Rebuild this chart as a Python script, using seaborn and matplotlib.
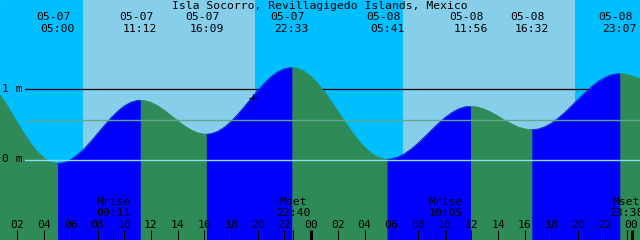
import numpy as np
import pandas as pd
import matplotlib
matplotlib.use("Agg")
import matplotlib.pyplot as plt
import matplotlib.transforms as mtransforms
import seaborn as sns

title = "Isla Socorro, Revillagigedo Islands, Mexico"

# tide level (m), every half hour from 05-07 00:00 to 05-09 01:00
hours = np.arange(0, 49.5, 0.5)
level_m = [1.075, 0.962, 0.826, 0.676, 0.519, 0.367, 0.227, 0.109, 0.019, -0.037,
           -0.056, -0.042, 0.000, 0.067, 0.154, 0.256, 0.367, 0.479, 0.586, 0.680,
           0.755, 0.807, 0.833, 0.831, 0.805, 0.758, 0.695, 0.622, 0.547, 0.476,
           0.417, 0.376, 0.357, 0.363, 0.396, 0.455, 0.537, 0.636, 0.746, 0.861,
           0.974, 1.077, 1.167, 1.235, 1.279, 1.296, 1.283, 1.240, 1.169, 1.072,
           0.955, 0.823, 0.683, 0.541, 0.405, 0.280, 0.173, 0.090, 0.033, 0.006,
           0.009, 0.035, 0.083, 0.149, 0.230, 0.320, 0.413, 0.504, 0.587, 0.657,
           0.709, 0.741, 0.750, 0.738, 0.708, 0.664, 0.611, 0.555, 0.503, 0.459,
           0.431, 0.420, 0.430, 0.461, 0.513, 0.582, 0.663, 0.754, 0.848, 0.940,
           1.025, 1.099, 1.155, 1.193, 1.209, 1.203, 1.180, 1.145, 1.100]

# high / low tide events
event_dates = ["05-07", "05-07", "05-07", "05-07", "05-08", "05-08", "05-08", "05-08"]
event_clock = ["05:00", "11:12", "16:09", "22:33", "05:41", "11:56", "16:32", "23:07"]
event_level = [-0.056, 0.835, 0.356, 1.296, 0.004, 0.750, 0.420, 1.210]

# moon events
moon_kind = ["Mrise", "Mset", "Mrise", "Mset"]
moon_dates = ["05-07", "05-07", "05-08", "05-08"]
moon_clock = ["09:11", "22:40", "10:05", "23:38"]

# daylight
sun_dates = ["05-07", "05-08"]
sunrise_clock = ["06:54", "06:53"]
sunset_clock = ["19:47", "19:46"]

# marked point on the curve
mark_clock = "19:40"
mark_date = "05-07"
mark_level = 0.87

tick_hours = list(range(2, 49, 2))
tick_labels = ["02", "04", "06", "08", "10", "12", "14", "16", "18", "20", "22", "00",
               "02", "04", "06", "08", "10", "12", "14", "16", "18", "20", "22", "00"]

level_marks = [1.0, 0.0]
level_labels = ["1 m", "0 m"]
mean_level = 0.55

day_index = {"05-07": 0, "05-08": 1}


def to_hours(d, c):
    hh, mm = c.split(":")
    return 24 * day_index[d] + int(hh) + int(mm) / 60.0


event_hours = [to_hours(d, c) for d, c in zip(event_dates, event_clock)]
moon_hours = [to_hours(d, c) for d, c in zip(moon_dates, moon_clock)]
sunrise_h = [to_hours(d, c) for d, c in zip(sun_dates, sunrise_clock)]
sunset_h = [to_hours(d, c) for d, c in zip(sun_dates, sunset_clock)]

# combined series
df = pd.concat([pd.DataFrame({"t": hours, "lv": level_m}),
                pd.DataFrame({"t": event_hours, "lv": event_level})])
df = df.sort_values("t").drop_duplicates("t", keep="last").reset_index(drop=True)

bounds = [df.t.min()] + event_hours + [df.t.max()]

NIGHT = "#00BFFF"
DAY = "#87CEEB"
FALL = "#2E8B57"
RISE = "#0000FF"

W, H = 640, 240
px_per_h = 13.348
x0 = 2 - 17.5 / px_per_h
x1 = 2 + (W - 17.5) / px_per_h
px_per_m = 71.0
y_top = 159.5 / px_per_m
y_bot = -(H - 159.5) / px_per_m

fig = plt.figure(figsize=(6.4, 2.4), dpi=100)
ax = fig.add_axes([0, 0, 1, 1])
ax.set_xlim(x0, x1)
ax.set_ylim(y_bot, y_top)
ax.set_axis_off()
ax.add_patch(plt.Rectangle((0, 0), 1, 1, transform=ax.transAxes, color=NIGHT, zorder=0))
for a, b in zip(sunrise_h, sunset_h):
    ax.axvspan(a, b, color=DAY, lw=0, zorder=0.5)

# 1 m level line (behind water)
ax.axhline(level_marks[0], xmin=25 / W, xmax=1, color="black", lw=0.9, zorder=1)

# water: all green, then rising parts blue
ax.fill_between(df.t, df.lv, y_bot, color=FALL, lw=0, zorder=2)
segs = []
for i in range(len(bounds) - 1):
    a, b = bounds[i], bounds[i + 1]
    part = df[(df.t >= a) & (df.t <= b)].copy()
    rising = part.lv.iloc[-1] > part.lv.iloc[0]
    part["seg"] = i
    part["dir"] = "rise" if rising else "fall"
    segs.append(part)
    if rising:
        ax.fill_between(part.t, part.lv, y_bot, color=RISE, lw=0, zorder=2.1)
seg_df = pd.concat(segs)
pal = {i: (RISE if seg_df[seg_df.seg == i].dir.iloc[0] == "rise" else FALL)
       for i in seg_df.seg.unique()}
sns.lineplot(data=seg_df, x="t", y="lv", hue="seg", palette=pal, units="seg",
             estimator=None, sort=True, legend=False, lw=0.5, ax=ax, zorder=2.2)

# level lines on top
ax.axhline(mean_level, xmin=25 / W, xmax=1, color="#5FA88C", lw=1.0, zorder=3)
ax.axhline(level_marks[1], xmin=25 / W, xmax=1, color="#8FDCEE", lw=1.0, zorder=3)

ax.plot([to_hours(mark_date, mark_clock)], [mark_level], marker="+", ms=6,
        mew=0.9, color="black", zorder=4)

font = dict(family="DejaVu Sans Mono", size=8.2, color="black")
xt = ax.get_xaxis_transform()

ax.text(0.5, 1 - 6 / H, title, transform=ax.transAxes, ha="center", va="center", **font)

date_tr = mtransforms.offset_copy(xt, fig=fig, x=-4, y=0, units="dots")
for t, d, c in zip(event_hours, event_dates, event_clock):
    ax.text(t, 1 - 17.5 / H, d, transform=date_tr, ha="center", va="center", **font)
    ax.text(t, 1 - 29.5 / H, c, transform=xt, ha="center", va="center", **font)

for lv, lab in zip(level_marks, level_labels):
    ax.text(1.5 / W, lv, lab, transform=ax.get_yaxis_transform(), ha="left",
            va="center", **font)

for t, k, c in zip(moon_hours, moon_kind, moon_clock):
    ax.text(t, 1 - 202 / H, k, transform=xt, ha="center", va="center", **font)
    ax.text(t, 1 - 213.5 / H, c, transform=xt, ha="center", va="center", **font)
    ax.vlines(t, 0, 10 / H, transform=xt, color="black", lw=0.75, zorder=5)

for t, lab in zip(tick_hours, tick_labels):
    ax.text(t, 1 - 225.5 / H, lab, transform=xt, ha="center", va="center", **font)
    ax.vlines(t, 0, 10 / H, transform=xt, color="black",
              lw=2.2 if lab == "00" else 0.75, zorder=5)

fig.savefig("out.png", dpi=100)
